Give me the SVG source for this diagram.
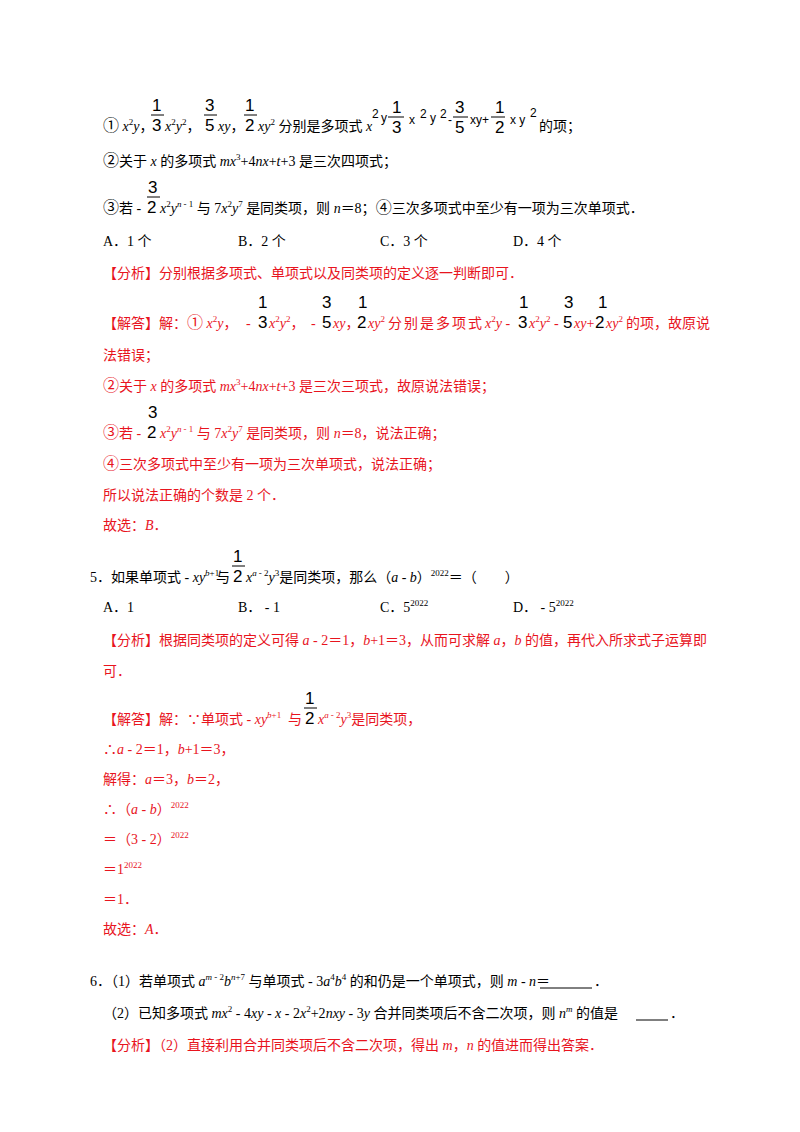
<svg xmlns="http://www.w3.org/2000/svg" width="800" height="1132" viewBox="0 0 800 1132">
<style>
text{font-family:"Liberation Serif","Noto Sans CJK SC",serif;font-size:14px;fill:#000}
.r{fill:#e8141e}
.i{font-style:italic}
.s{font-size:9px}
.f{font-family:"Liberation Sans",sans-serif;font-size:17px}
.fs{font-family:"Liberation Sans",sans-serif;font-size:12px}
.bar{stroke:#000;stroke-width:1}
</style>
<rect width="800" height="1132" fill="#fff"/>
<g id="q4">
<text x="103" y="131"><tspan font-size="16">①</tspan> <tspan class="i">x</tspan><tspan class="s" dy="-6">2</tspan><tspan class="i" dy="6">y</tspan>，</text>
<text x="152" y="111" class="f">1</text><line x1="151" y1="115" x2="164" y2="115" class="bar"/><text x="152" y="131" class="f">3</text>
<text x="165" y="131"><tspan class="i">x</tspan><tspan class="s" dy="-6">2</tspan><tspan class="i" dy="6">y</tspan><tspan class="s" dy="-6">2</tspan><tspan dy="6">，</tspan></text>
<text x="205" y="111" class="f">3</text><line x1="204" y1="115" x2="217" y2="115" class="bar"/><text x="205" y="131" class="f">5</text>
<text x="218" y="131" class="i">xy<tspan font-style="normal">，</tspan></text>
<text x="245" y="111" class="f">1</text><line x1="244" y1="115" x2="257" y2="115" class="bar"/><text x="245" y="131" class="f">2</text>
<text x="258" y="131"><tspan class="i">xy</tspan><tspan class="s" dy="-6">2</tspan><tspan dy="6"> 分别是多项式 </tspan><tspan class="i">x</tspan></text>
<text x="372" y="118" class="fs">2</text><text x="381" y="122" class="fs">y</text>
<line x1="388" y1="117" x2="404" y2="117" class="bar"/><text x="392" y="113" class="f">1</text><text x="392" y="133" class="f">3</text>
<text x="409" y="124" class="fs">x</text><text x="420" y="118" class="fs">2</text><text x="430" y="122" class="fs">y</text><text x="440" y="118" class="fs">2</text>
<text x="448" y="124" class="fs">-</text><text x="455" y="113" class="f">3</text><line x1="453" y1="117" x2="468" y2="117" class="bar"/><text x="455" y="133" class="f">5</text>
<text x="470" y="124" class="fs">xy+</text><text x="495" y="113" class="f">1</text><line x1="491" y1="117" x2="505" y2="117" class="bar"/><text x="495" y="133" class="f">2</text>
<text x="510" y="124" class="fs">x y</text><text x="530" y="117" class="fs">2</text>
<text x="539" y="131">的项；</text>
<text x="103" y="166"><tspan font-size="16">②</tspan>关于 <tspan class="i">x</tspan> 的多项式 <tspan class="i">mx</tspan><tspan class="s" dy="-6">3</tspan><tspan dy="6">+4</tspan><tspan class="i">nx</tspan>+<tspan class="i">t</tspan>+3 是三次四项式；</text>
<text x="148" y="193" class="f">3</text><line x1="147" y1="197" x2="160" y2="197" class="bar"/>
<text x="103" y="213"><tspan font-size="16">③</tspan>若 - </text><text x="147" y="213" class="f">2</text>
<text x="160" y="213"><tspan class="i">x</tspan><tspan class="s" dy="-6">2</tspan><tspan class="i" dy="6">y</tspan><tspan class="s i" dy="-6">n</tspan><tspan class="s" dx="2">- 1</tspan><tspan dy="6"> 与 7</tspan><tspan class="i">x</tspan><tspan class="s" dy="-6">2</tspan><tspan class="i" dy="6">y</tspan><tspan class="s" dy="-6">7</tspan><tspan dy="6"> 是同类项，则 </tspan><tspan class="i">n</tspan>＝8；<tspan font-size="16">④</tspan>三次多项式中至少有一项为三次单项式．</text>
<text x="103" y="246">A．1 个</text><text x="238" y="246">B．2 个</text><text x="380" y="246">C．3 个</text><text x="513" y="246">D．4 个</text>
<text x="103" y="278" class="r">【分析】分别根据多项式、单项式以及同类项的定义逐一判断即可．</text>
<text x="103" y="328" class="r">【解答】解：<tspan font-size="16">①</tspan> <tspan class="i">x</tspan><tspan class="s" dy="-6">2</tspan><tspan class="i" dy="6">y</tspan>，</text>
<text x="246" y="328" class="r">-</text>
<text x="258" y="308" class="f">1</text><text x="258" y="328" class="f">3</text>
<text x="269" y="328" class="r"><tspan class="i">x</tspan><tspan class="s" dy="-6">2</tspan><tspan class="i" dy="6">y</tspan><tspan class="s" dy="-6">2</tspan><tspan dy="6">，</tspan></text>
<text x="311" y="328" class="r">-</text>
<text x="322" y="308" class="f">3</text><text x="322" y="328" class="f">5</text>
<text x="333" y="328" class="r"><tspan class="i">xy</tspan>，</text>
<text x="358" y="308" class="f">1</text><text x="357" y="328" class="f">2</text>
<text x="368" y="328" class="r"><tspan class="i">xy</tspan><tspan class="s" dy="-6">2</tspan></text>
<text x="388" y="328" class="r" textLength="94">分别是多项式</text>
<text x="485" y="328" class="r"><tspan class="i">x</tspan><tspan class="s" dy="-6">2</tspan><tspan class="i" dy="6">y</tspan> -</text>
<text x="519" y="308" class="f">1</text><text x="518" y="328" class="f">3</text>
<text x="529" y="328" class="r"><tspan class="i">x</tspan><tspan class="s" dy="-6">2</tspan><tspan class="i" dy="6">y</tspan><tspan class="s" dy="-6">2</tspan><tspan dy="6"> -</tspan></text>
<text x="564" y="308" class="f">3</text><text x="563" y="328" class="f">5</text>
<text x="574" y="328" class="r"><tspan class="i">xy</tspan>+</text>
<text x="598" y="308" class="f">1</text><text x="595" y="328" class="f">2</text>
<text x="606" y="328" class="r"><tspan class="i">xy</tspan><tspan class="s" dy="-6">2</tspan></text>
<text x="626" y="328" class="r">的项，故原说</text>
<text x="103" y="360" class="r">法错误；</text>
<text x="103" y="391" class="r"><tspan font-size="16">②</tspan>关于 <tspan class="i">x</tspan> 的多项式 <tspan class="i">mx</tspan><tspan class="s" dy="-6">3</tspan><tspan dy="6">+4</tspan><tspan class="i">nx</tspan>+<tspan class="i">t</tspan>+3 是三次三项式，故原说法错误；</text>
<text x="148" y="418" class="f">3</text>
<text x="103" y="438" class="r"><tspan font-size="16">③</tspan>若 - </text><text x="147" y="438" class="f">2</text>
<text x="160" y="438" class="r"><tspan class="i">x</tspan><tspan class="s" dy="-6">2</tspan><tspan class="i" dy="6">y</tspan><tspan class="s i" dy="-6">n</tspan><tspan class="s" dx="2">- 1</tspan><tspan dy="6"> 与 7</tspan><tspan class="i">x</tspan><tspan class="s" dy="-6">2</tspan><tspan class="i" dy="6">y</tspan><tspan class="s" dy="-6">7</tspan><tspan dy="6"> 是同类项，则 </tspan><tspan class="i">n</tspan>＝8，说法正确；</text>
<text x="103" y="469" class="r"><tspan font-size="16">④</tspan>三次多项式中至少有一项为三次单项式，说法正确；</text>
<text x="103" y="500" class="r">所以说法正确的个数是 2 个．</text>
<text x="103" y="530" class="r">故选：<tspan class="i">B</tspan>．</text>
</g>
<g id="q5">
<text x="90" y="582">5．如果单项式 - <tspan class="i">xy</tspan><tspan class="s i" dy="-6">b</tspan><tspan class="s">+1</tspan></text>
<text x="216" y="582">与</text>
<text x="233" y="562" class="f">1</text><line x1="232" y1="566" x2="245" y2="566" class="bar"/><text x="233" y="582" class="f">2</text>
<text x="246" y="582"><tspan class="i">x</tspan><tspan class="s i" dy="-6">a</tspan><tspan class="s" dx="2">- 2</tspan><tspan class="i" dy="6">y</tspan><tspan class="s" dy="-6">3</tspan><tspan dy="6">是同类项，那么（</tspan><tspan class="i">a</tspan> - <tspan class="i">b</tspan>）<tspan class="s" dy="-6">2022</tspan><tspan dy="6">＝（　　）</tspan></text>
<text x="103" y="612">A．1</text><text x="238" y="612">B．  - 1</text><text x="380" y="612">C．5<tspan class="s" dy="-6">2022</tspan></text><text x="513" y="612">D．  - 5<tspan class="s" dy="-6">2022</tspan></text>
<text x="103" y="645" class="r">【分析】根据同类项的定义可得 <tspan class="i">a</tspan> - 2＝1，<tspan class="i">b</tspan>+1＝3，从而可求解 <tspan class="i">a</tspan>，<tspan class="i">b</tspan> 的值，再代入所求式子运算即</text>
<text x="103" y="676" class="r">可．</text>
<text x="103" y="724" class="r">【解答】解：∵单项式 - <tspan class="i">xy</tspan><tspan class="s i" dy="-6">b</tspan><tspan class="s">+1</tspan></text>
<text x="288" y="724" class="r">与</text>
<text x="305" y="704" class="f">1</text><line x1="304" y1="708" x2="317" y2="708" class="bar"/><text x="305" y="724" class="f">2</text>
<text x="318" y="724" class="r"><tspan class="i">x</tspan><tspan class="s i" dy="-6">a</tspan><tspan class="s" dx="2">- 2</tspan><tspan class="i" dy="6">y</tspan><tspan class="s" dy="-6">3</tspan><tspan dy="6">是同类项，</tspan></text>
<text x="103" y="754" class="r">∴<tspan class="i">a</tspan> - 2＝1，<tspan class="i">b</tspan>+1＝3，</text>
<text x="103" y="784" class="r">解得：<tspan class="i">a</tspan>＝3，<tspan class="i">b</tspan>＝2，</text>
<text x="103" y="814" class="r">∴（<tspan class="i">a</tspan> - <tspan class="i">b</tspan>）<tspan class="s" dy="-6">2022</tspan></text>
<text x="103" y="844" class="r">＝（3 - 2）<tspan class="s" dy="-6">2022</tspan></text>
<text x="103" y="874" class="r">＝1<tspan class="s" dy="-6">2022</tspan></text>
<text x="103" y="904" class="r">＝1．</text>
<text x="103" y="934" class="r">故选：<tspan class="i">A</tspan>．</text>
</g>
<g id="q6">
<text x="90" y="986">6．（1）若单项式 <tspan class="i">a</tspan><tspan class="s i" dy="-6">m</tspan><tspan class="s"> - 2</tspan><tspan class="i" dy="6">b</tspan><tspan class="s i" dy="-6">n</tspan><tspan class="s">+7</tspan><tspan dy="6"> 与单项式 - 3</tspan><tspan class="i">a</tspan><tspan class="s" dy="-6">4</tspan><tspan class="i" dy="6">b</tspan><tspan class="s" dy="-6">4</tspan><tspan dy="6"> 的和仍是一个单项式，则 </tspan><tspan class="i">m</tspan> - <tspan class="i">n</tspan>＝</text>
<line x1="540" y1="988" x2="592" y2="988" class="bar"/><text x="594" y="986">．</text>
<text x="103" y="1018">（2）已知多项式 <tspan class="i">mx</tspan><tspan class="s" dy="-6">2</tspan><tspan dy="6"> - 4</tspan><tspan class="i">xy</tspan> - <tspan class="i">x</tspan> - 2<tspan class="i">x</tspan><tspan class="s" dy="-6">2</tspan><tspan dy="6">+2</tspan><tspan class="i">nxy</tspan> - 3<tspan class="i">y</tspan> 合并同类项后不含二次项，则 <tspan class="i">n</tspan><tspan class="s i" dy="-6">m</tspan><tspan dy="6"> 的值是 </tspan></text>
<line x1="636" y1="1020" x2="668" y2="1020" class="bar"/><text x="670" y="1018">．</text>
<text x="103" y="1050" class="r">【分析】（2）直接利用合并同类项后不含二次项，得出 <tspan class="i">m</tspan>，<tspan class="i">n</tspan> 的值进而得出答案．</text>
</g>
</svg>
